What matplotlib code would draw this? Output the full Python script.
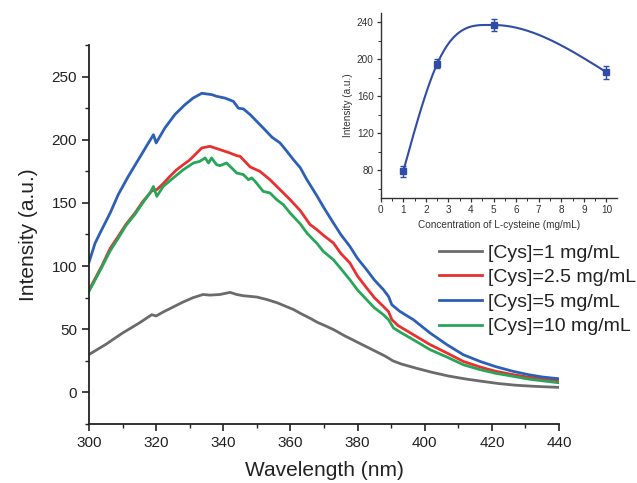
import numpy as np
import matplotlib
matplotlib.use("Agg")
import matplotlib.pyplot as plt
from matplotlib.ticker import MultipleLocator

plt.rcParams['font.family'] = ['Liberation Sans', 'DejaVu Sans']

# ---------------- data ----------------
wl_1 = [300, 305, 310, 315, 318.7, 320, 322, 325, 328, 331, 334, 336, 339, 342, 344, 346, 348, 350,
        353, 356, 358, 361, 363, 366, 368, 371, 373, 376, 379, 382, 385, 388, 389, 390.5, 393, 397,
        402, 407, 412, 417, 422, 427, 432, 436, 440]
int_1 = [30, 38, 47, 55, 61.5, 60.5, 63.5, 67.5, 71.5, 75, 77.5, 77, 77.5, 79.2, 77.5, 76.5, 76, 75.5,
         73.5, 71, 68.8, 65.5, 62.5, 58.5, 55.5, 52, 49.5, 45, 41, 37, 33, 29, 27.5, 25, 22.5, 19.5,
         16, 13, 10.7, 8.8, 7, 5.7, 4.9, 4.4, 4]

wl_25 = [300, 303.8, 306.3, 308.7, 311, 313.7, 316, 318.7, 320.2, 322, 324.1, 326, 328.1, 330, 331.1,
         333.6, 336, 339, 342, 344, 345, 348, 350.9, 353.9, 356.9, 359.9, 362.9, 365.8, 367.8, 370,
         372.8, 375, 377.7, 380, 382.7, 385, 387.7, 389.2, 390.2, 392, 396.6, 401.6, 406.6, 411.5,
         416.5, 421, 426.4, 431, 435, 440]
int_25 = [81, 100, 114, 123.5, 133, 142, 151, 159.5, 160.5, 165, 171, 176, 180.3, 184, 186.9,
          193.5, 194.8, 192.2, 189.5, 187.4, 186.9, 178.5, 175, 168.4, 160.5, 152.6, 144, 133, 129, 124,
          118.3, 110, 102.5, 92, 82.7, 75, 68, 64, 57.6, 53, 45.7, 37.8, 31.2, 24.5,
          20.1, 16.8, 14, 12, 10.8, 9.3]

wl_5 = [300, 301.8, 303.3, 306.3, 308.7, 311.7, 314.7, 317.7, 319.2, 320, 322.6, 325.6, 328.6,
        331, 333.6, 336.6, 338, 340.5, 343, 344.5, 346, 348, 351.9, 354.5, 356.9, 358.9, 360.9, 362.9,
        364.9, 367.8, 370, 372.8, 375, 377.7, 380, 382.7, 385, 387.7, 389.2, 390.2, 392.6, 396.6,
        401.6, 406.6, 411.5, 416.5, 421, 426.4, 431, 435, 440]
int_5 = [103, 118, 126.2, 142, 156.5, 171, 184.2, 197.5, 204, 197.5, 209.3, 220, 227.8,
         233, 236.8, 235.7, 234.4, 233, 230.4, 225, 224.4, 219.9, 209.3, 202, 197.5, 191, 184.2, 178,
         168.4, 156, 146, 134.1, 125, 115.6, 106, 97.1, 89, 81.3, 76, 69.4, 64.1, 57.6,
         47, 37.8, 29.8, 24.5, 20.5, 16.6, 14, 12.2, 10.8]

wl_10 = [300, 303.8, 306.3, 308.7, 311, 313.7, 316, 318.2, 319.2, 320.2, 322.1, 325.1, 328.1, 331.1,
         333, 334.6, 335.6, 336.5, 338, 339, 341, 342.5, 344, 346, 347.5, 348.5, 349.5, 351.9, 353.9,
         355.9, 357.9, 359.9, 362.9, 364.9, 366.8, 367.8, 369.8, 372.8, 375, 377.7, 380, 382.7, 385,
         387.7, 389.2, 390.7, 392.5, 396.6, 401.6, 406.6, 411.5, 416.5, 421, 426.4, 431, 435, 440]
int_10 = [80, 99, 112, 122, 132, 141, 150, 158, 163, 155.2, 163, 169.8, 176.3, 181.6,
          182.9, 185.6, 181.6, 185.6, 180.3, 179.5, 181.6, 177.7, 173.7, 172.4, 168.4, 169.8, 167, 159.1, 157.9,
          152.6, 148.6, 142, 133.5, 126.2, 120.9, 118.3, 111.6, 105, 98, 89.2, 81, 73.4, 67,
          61.5, 57.6, 51, 48, 41.7, 33.8, 28, 21.9, 18, 15.2, 12.7, 10.5, 9.2, 7.6]

labels = ['[Cys]=1 mg/mL', '[Cys]=2.5 mg/mL', '[Cys]=5 mg/mL', '[Cys]=10 mg/mL']
colors = ['#6b6b6d', '#e8302f', '#2c60b6', '#27a65a']

conc = [1, 2.5, 5, 10]
peak = [79, 195, 237, 186]
peak_err = [6, 5, 7, 7]

# ---------------- figure ----------------
fig = plt.figure(figsize=(6.37, 4.83), dpi=100)
ax = fig.add_axes([0.1397, 0.1222, 0.7379, 0.7846])

for w, v, lab, c in zip([wl_1, wl_25, wl_5, wl_10], [int_1, int_25, int_5, int_10], labels, colors):
    ax.plot(w, v, color=c, lw=2.0, label=lab)

ax.set_xlim(300, 440)
ax.set_ylim(-25, 275)
ax.xaxis.set_major_locator(MultipleLocator(20))
ax.xaxis.set_minor_locator(MultipleLocator(10))
ax.yaxis.set_major_locator(MultipleLocator(50))
ax.yaxis.set_minor_locator(MultipleLocator(25))
ax.set_yticks([0, 50, 100, 150, 200, 250])
ax.spines['top'].set_visible(False)
ax.spines['right'].set_visible(False)
for s in ['left', 'bottom']:
    ax.spines[s].set_linewidth(1.3)
    ax.spines[s].set_color('#222222')
ax.tick_params(which='major', direction='out', length=5, width=1.2, labelsize=11, colors='#222222')
ax.tick_params(which='minor', direction='out', length=3, width=1.0, colors='#222222')
ax.set_xlabel('Wavelength (nm)', fontsize=15, color='#222222', labelpad=8)
ax.set_ylabel('Intensity (a.u.)', fontsize=15, color='#222222', labelpad=10)

leg = ax.legend(loc='upper left', bbox_to_anchor=(0.745, 0.475), frameon=False, fontsize=14,
                handlelength=2.2, handletextpad=0.3, labelspacing=0.36, borderaxespad=0,
                borderpad=0)
for t in leg.get_texts():
    t.set_color('#222222')

# ---------------- inset ----------------
ins = fig.add_axes([0.5977, 0.5901, 0.3709, 0.3830])

# smooth piecewise-cubic Hermite line through the measured points
# (three-point derivatives, flat at the local maximum, natural ends)
xk = np.array(conc, dtype=float)
yk = np.array(peak, dtype=float)
h = np.diff(xk)
delta = np.diff(yk) / h
m = np.zeros(len(xk))
for i in range(1, len(xk) - 1):
    if delta[i - 1] * delta[i] > 0:
        m[i] = (h[i] * delta[i - 1] + h[i - 1] * delta[i]) / (h[i - 1] + h[i])
m[0] = (3 * delta[0] - m[1]) / 2
m[-1] = (3 * delta[-1] - m[-2]) / 2
xs, ys = [], []
for i in range(len(xk) - 1):
    t = np.linspace(0, 1, 80)
    h00 = 2 * t ** 3 - 3 * t ** 2 + 1
    h10 = t ** 3 - 2 * t ** 2 + t
    h01 = -2 * t ** 3 + 3 * t ** 2
    h11 = t ** 3 - t ** 2
    xs.append(xk[i] + t * h[i])
    ys.append(h00 * yk[i] + h10 * h[i] * m[i] + h01 * yk[i + 1] + h11 * h[i] * m[i + 1])
xs = np.concatenate(xs)
ys = np.concatenate(ys)

ins_col = '#2f4ca6'
ins.plot(xs, ys, color=ins_col, lw=1.5)
ins.errorbar(conc, peak, yerr=peak_err, fmt='s', color=ins_col, ms=5, capsize=2.5,
             elinewidth=1.0, capthick=1.0)
ins.set_xlim(0, 10.47)
ins.set_ylim(50, 250)
ins.xaxis.set_minor_locator(MultipleLocator(0.5))
ins.yaxis.set_minor_locator(MultipleLocator(20))
ins.set_yticks([80, 120, 160, 200, 240])
ins.set_xticks(range(0, 11))
ins.spines['top'].set_visible(False)
ins.spines['right'].set_visible(False)
for s in ['left', 'bottom']:
    ins.spines[s].set_linewidth(1.0)
    ins.spines[s].set_color('#333333')
ins.tick_params(which='major', direction='out', length=3, width=0.9, labelsize=7.2, colors='#333333', pad=2)
ins.tick_params(which='minor', direction='out', length=2, width=0.7, colors='#333333')
ins.set_xlabel('Concentration of L-cysteine (mg/mL)', fontsize=7.2, color='#333333', labelpad=4)
ins.set_ylabel('Intensity (a.u.)', fontsize=7.2, color='#333333', labelpad=3)
ins.patch.set_alpha(0)

fig.savefig('out.png', dpi=100)
